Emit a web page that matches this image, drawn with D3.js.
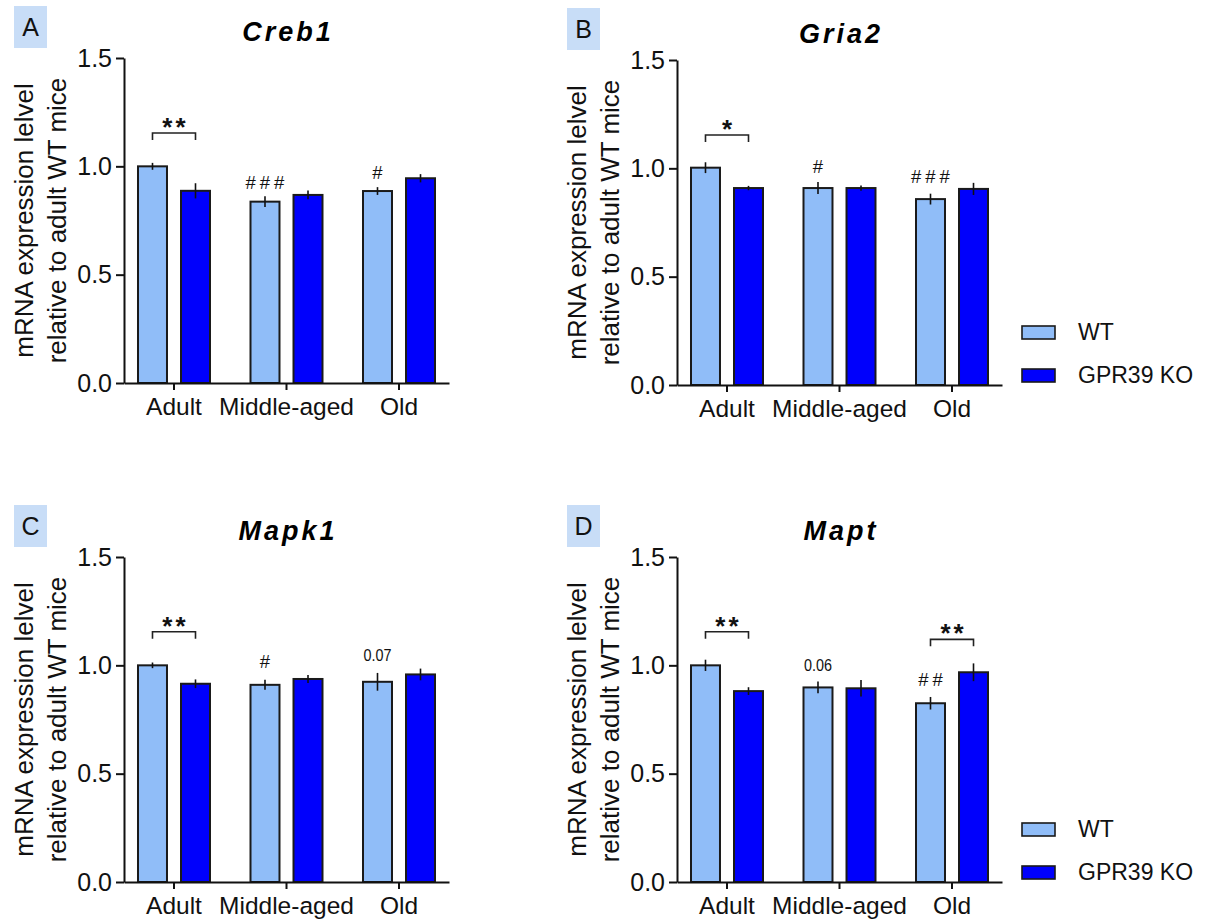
<!DOCTYPE html>
<html>
<head>
<meta charset="utf-8">
<script src="https://cdn.jsdelivr.net/npm/d3@7"></script>
<style>
  html, body { margin: 0; padding: 0; background: #fff; }
  svg { display: block; }
  text { font-family: "Liberation Sans", Arial, sans-serif; }
</style>
</head>
<body>
<svg id="chart" width="1214" height="923"></svg>
<script>
// ---------- DATA ----------
const categories = ["Adult", "Middle-aged", "Old"];
const series = ["WT", "GPR39 KO"];
const panelLetters = ["A", "B", "C", "D"];
const genes = ["Creb1", "Gria2", "Mapk1", "Mapt"];
const yTicks = [0, 0.5, 1.0, 1.5];
const yLabelLines = ["mRNA expression lelvel", "relative to adult WT mice"];

const creb1WT = [1.000, 0.837, 0.886];
const creb1WTerr = [0.016, 0.025, 0.018];
const creb1KO = [0.887, 0.868, 0.945];
const creb1KOerr = [0.035, 0.020, 0.019];

const gria2WT = [1.003, 0.909, 0.858];
const gria2WTerr = [0.025, 0.028, 0.025];
const gria2KO = [0.909, 0.909, 0.905];
const gria2KOerr = [0.010, 0.012, 0.028];

const mapk1WT = [1.000, 0.910, 0.924];
const mapk1WTerr = [0.013, 0.023, 0.041];
const mapk1KO = [0.915, 0.937, 0.958];
const mapk1KOerr = [0.020, 0.018, 0.027];

const maptWT = [1.000, 0.898, 0.825];
const maptWTerr = [0.026, 0.027, 0.029];
const maptKO = [0.881, 0.894, 0.968];
const maptKOerr = [0.018, 0.038, 0.041];

// significance brackets (WT vs KO within an age group): top of bracket in data units
const creb1Brackets = [{ cat: "Adult", top: 1.154, label: "**" }];
const gria2Brackets = [{ cat: "Adult", top: 1.154, label: "*" }];
const mapk1Brackets = [{ cat: "Adult", top: 1.155, label: "**" }];
const maptBrackets = [{ cat: "Adult", top: 1.155, label: "**" }, { cat: "Old", top: 1.120, label: "**" }];

// marks above WT bars (vs adult WT): centre height in data units
const creb1Marks = [{ cat: "Middle-aged", y: 0.924, label: "###" }, { cat: "Old", y: 0.972, label: "#" }];
const gria2Marks = [{ cat: "Middle-aged", y: 1.007, label: "#" }, { cat: "Old", y: 0.961, label: "###" }];
const mapk1Marks = [{ cat: "Middle-aged", y: 1.020, label: "#" }, { cat: "Old", y: 1.048, label: "0.07" }];
const maptMarks = [{ cat: "Middle-aged", y: 1.006, label: "0.06" }, { cat: "Old", y: 0.935, label: "##" }];

// ---------- STYLE / LAYOUT ----------
const colors = { "WT": "#90bdf8", "GPR39 KO": "#0000fc" };
const labelBoxColor = "#c8ddf7";

const panelData = [
  { letter: "A", gene: genes[0], wt: creb1WT, wtErr: creb1WTerr, ko: creb1KO, koErr: creb1KOerr, brackets: creb1Brackets, marks: creb1Marks, legend: false, ax: 124, top: 58, bottom: 383 },
  { letter: "B", gene: genes[1], wt: gria2WT, wtErr: gria2WTerr, ko: gria2KO, koErr: gria2KOerr, brackets: gria2Brackets, marks: gria2Marks, legend: true, ax: 677, top: 60, bottom: 385 },
  { letter: "C", gene: genes[2], wt: mapk1WT, wtErr: mapk1WTerr, ko: mapk1KO, koErr: mapk1KOerr, brackets: mapk1Brackets, marks: mapk1Marks, legend: false, ax: 124, top: 557, bottom: 882 },
  { letter: "D", gene: genes[3], wt: maptWT, wtErr: maptWTerr, ko: maptKO, koErr: maptKOerr, brackets: maptBrackets, marks: maptMarks, legend: true, ax: 677, top: 557, bottom: 882 }
];

const svg = d3.select("#chart");
const plotW = 325;

panelData.forEach(p => {
  const g = svg.append("g");
  const y = d3.scaleLinear().domain([0, 1.5]).range([p.bottom, p.top]);
  const x = d3.scaleBand().domain(categories).range([p.ax, p.ax + plotW])
    .paddingInner(0.5).paddingOuter(0.1944);
  const sub = d3.scaleBand().domain(series).range([-36, 36]).paddingInner(0.326).paddingOuter(0);
  const cx = c => x(c) + x.bandwidth() / 2;

  // panel letter box
  g.append("rect")
    .attr("x", p.ax - 110).attr("y", p.top - 52)
    .attr("width", 33).attr("height", 42)
    .attr("fill", labelBoxColor);
  g.append("text")
    .attr("x", p.ax - 93.5).attr("y", p.top - 22)
    .attr("text-anchor", "middle")
    .attr("font-size", 25)
    .attr("fill", "#111")
    .text(p.letter);

  // title
  g.append("text")
    .attr("x", p.ax + plotW / 2 + 1.5).attr("y", p.top - 17)
    .attr("text-anchor", "middle")
    .attr("font-size", 27)
    .attr("font-weight", "bold")
    .attr("font-style", "italic")
    .style("letter-spacing", "3px")
    .attr("fill", "#000")
    .text(p.gene);

  // bars
  const rows = [];
  categories.forEach((c, i) => {
    rows.push({ cat: c, s: "WT", v: p.wt[i], e: p.wtErr[i] });
    rows.push({ cat: c, s: "GPR39 KO", v: p.ko[i], e: p.koErr[i] });
  });
  g.selectAll("rect.bar").data(rows).enter().append("rect")
    .attr("class", "bar")
    .attr("x", d => cx(d.cat) + sub(d.s))
    .attr("y", d => y(d.v))
    .attr("width", sub.bandwidth())
    .attr("height", d => y(0) - y(d.v))
    .attr("fill", d => colors[d.s])
    .attr("stroke", "#1a1a1a")
    .attr("stroke-width", 2);

  // error bars
  g.selectAll("line.err").data(rows).enter().append("line")
    .attr("class", "err")
    .attr("x1", d => cx(d.cat) + sub(d.s) + sub.bandwidth() / 2)
    .attr("x2", d => cx(d.cat) + sub(d.s) + sub.bandwidth() / 2)
    .attr("y1", d => y(d.v + d.e))
    .attr("y2", d => y(d.v - d.e))
    .attr("stroke", "#111")
    .attr("stroke-width", 1.6);

  // y axis
  const yAxis = d3.axisLeft(y).tickValues(yTicks).tickFormat(d3.format(".1f"))
    .tickSize(8).tickSizeOuter(0).tickPadding(4);
  const yg = g.append("g").attr("transform", `translate(${p.ax},0)`).call(yAxis);
  yg.select(".domain").attr("stroke", "#111").attr("stroke-width", 2);
  yg.selectAll(".tick line").attr("stroke", "#111").attr("stroke-width", 2);
  yg.selectAll(".tick text").attr("font-size", 25).attr("fill", "#111")
    .attr("font-family", "Liberation Sans, Arial, sans-serif");

  // x axis
  const xAxis = d3.axisBottom(x).tickSize(7).tickSizeOuter(0).tickPadding(8);
  const xg = g.append("g").attr("transform", `translate(0,${p.bottom})`).call(xAxis);
  xg.select(".domain").attr("stroke", "#111").attr("stroke-width", 2);
  xg.selectAll(".tick line").attr("stroke", "#111").attr("stroke-width", 2);
  xg.selectAll(".tick text").attr("font-size", 24.5).attr("fill", "#111")
    .attr("font-family", "Liberation Sans, Arial, sans-serif");

  // y label (two lines)
  const cy = (p.top + p.bottom) / 2;
  [[yLabelLines[0], -91], [yLabelLines[1], -58]].forEach(([t, off]) => {
    g.append("text")
      .attr("transform", `translate(${p.ax + off},${cy}) rotate(-90)`)
      .attr("text-anchor", "middle")
      .attr("font-size", 26)
      .attr("fill", "#111")
      .text(t);
  });

  // brackets
  p.brackets.forEach(b => {
    const x1 = cx(b.cat) + sub("WT") + sub.bandwidth() / 2;
    const x2 = cx(b.cat) + sub("GPR39 KO") + sub.bandwidth() / 2;
    const yt = y(b.top);
    g.append("path")
      .attr("d", `M${x1},${yt + 7}V${yt}H${x2}V${yt + 7}`)
      .attr("fill", "none").attr("stroke", "#222").attr("stroke-width", 1.6);
    g.append("text")
      .attr("x", (x1 + x2) / 2 + 1.5).attr("y", yt + 3)
      .attr("text-anchor", "middle")
      .attr("font-size", 26).attr("font-weight", "bold")
      .style("letter-spacing", "3px")
      .attr("fill", "#111")
      .text(b.label);
  });

  // marks above WT bars
  p.marks.forEach(m => {
    const mx = cx(m.cat) + sub("WT") + sub.bandwidth() / 2;
    const isHash = m.label.indexOf("#") >= 0;
    const t = g.append("text")
      .attr("text-anchor", "middle")
      .attr("fill", "#111")
      .text(m.label);
    if (isHash) {
      t.attr("x", mx + 2).attr("y", y(m.y) + 6.5)
        .attr("font-size", 18.5).style("letter-spacing", "4px");
    } else {
      t.attr("x", mx).attr("y", y(m.y) + 6.5).attr("font-size", 17)
        .attr("textLength", 28).attr("lengthAdjust", "spacingAndGlyphs");
    }
  });

  // legend
  if (p.legend) {
    const lg = g.append("g");
    series.forEach((s, i) => {
      const ly = p.top + 266 + i * 43;
      lg.append("rect")
        .attr("x", 1022).attr("y", ly).attr("width", 33).attr("height", 13)
        .attr("fill", colors[s]).attr("stroke", "#1a1a1a").attr("stroke-width", 1.6);
      lg.append("text")
        .attr("x", 1078).attr("y", ly + 14)
        .attr("font-size", 23).attr("fill", "#111")
        .text(s);
    });
  }
});
</script>
</body>
</html>
